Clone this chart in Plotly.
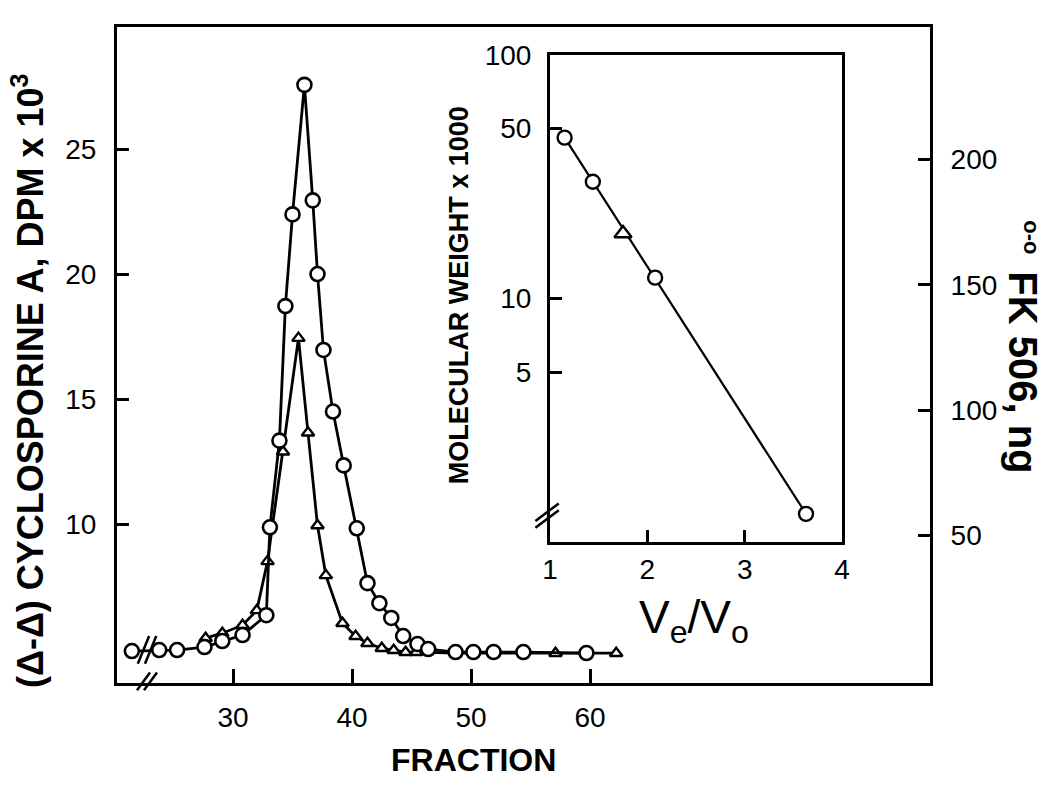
import plotly.graph_objects as go

# ---------------- data ----------------
# FK 506 (circles, right axis, ng)
fk506_fraction = [21.5, 23.8, 25.3, 27.6, 29.1, 30.8, 32.8, 33.1, 33.9, 34.4, 35.0, 36.0,
                  36.7, 37.1, 37.6, 38.4, 39.3, 40.4, 41.3, 42.3, 43.3, 44.3, 45.5, 46.4,
                  48.7, 50.2, 51.9, 54.4, 59.7]
fk506_ng = [3.8, 4.2, 4.2, 5.4, 7.8, 10.2, 18.1, 53.2, 87.8, 141.5, 178.1, 229.8,
            183.7, 154.3, 124.0, 99.4, 77.9, 52.8, 30.9, 22.9, 17.0, 9.8, 6.6, 4.6,
            3.4, 3.4, 3.4, 3.4, 3.0]

# Cyclosporine A (triangles, left axis, DPM x 10^3)
csa_fraction = [27.7, 29.1, 30.8, 32.0, 32.9, 34.2, 35.5, 36.3, 37.1, 37.8, 39.2, 40.3,
                41.3, 42.5, 43.5, 44.5, 45.4, 48.7, 51.9, 57.1, 62.2]
csa_dpm = [5.46, 5.66, 5.98, 6.57, 8.53, 12.91, 17.45, 13.67, 9.96, 7.97, 6.06, 5.54,
           5.26, 5.06, 4.98, 4.90, 4.90, 4.86, 4.86, 4.86, 4.86]

# Inset: calibration standards and sample
std_ve_vo = [1.15, 1.44, 2.08, 3.63]
std_mw = [45.8, 30.2, 12.2, 1.31]
sample_ve_vo = [1.75]
sample_mw = [18.5]

# axis ticks
main_x_ticks = [30, 40, 50, 60]
left_y_ticks = [10, 15, 20, 25]
right_y_ticks = [50, 100, 150, 200]
inset_x_ticks = [1, 2, 3, 4]
inset_y_ticks = [5, 10, 50, 100]

# break positions
x_break_fraction = 22.7

FONT = "Liberation Sans"
BLACK = "black"

fig = go.Figure()

fig.add_trace(go.Scatter(
    x=csa_fraction, y=csa_dpm, mode="lines+markers", xaxis="x", yaxis="y",
    line=dict(color=BLACK, width=2.8),
    marker=dict(symbol="triangle-up", size=11, color="white",
                line=dict(color=BLACK, width=2.4)),
    showlegend=False))

fig.add_trace(go.Scatter(
    x=fk506_fraction, y=fk506_ng, mode="lines+markers", xaxis="x", yaxis="y2",
    line=dict(color=BLACK, width=2.8),
    marker=dict(symbol="circle", size=14, color="white",
                line=dict(color=BLACK, width=2.6)),
    showlegend=False))

# inset
fig.add_trace(go.Scatter(
    x=std_ve_vo, y=std_mw, mode="lines+markers", xaxis="x2", yaxis="y3",
    line=dict(color=BLACK, width=2.2),
    marker=dict(symbol="circle", size=14, color="white",
                line=dict(color=BLACK, width=2.4)),
    showlegend=False))
fig.add_trace(go.Scatter(
    x=sample_ve_vo, y=sample_mw, mode="markers", xaxis="x2", yaxis="y3",
    marker=dict(symbol="triangle-up", size=15, color="white",
                line=dict(color=BLACK, width=2.4)),
    showlegend=False))

tickfont = dict(family=FONT, size=28, color=BLACK)
common = dict(showgrid=False, zeroline=False, showline=True, linecolor=BLACK,
              ticks="inside", tickcolor=BLACK, tickwidth=2.5, tickfont=tickfont)

fig.update_layout(
    width=1050, height=788,
    margin=dict(l=117, r=120, t=25, b=105),
    paper_bgcolor="white", plot_bgcolor="white",
    xaxis=dict(domain=[0, 1], range=[20.25, 88.57], tickvals=main_x_ticks,
               ticklen=14, linewidth=3, mirror=True, anchor="y",
               ticklabelstandoff=7, **common),
    yaxis=dict(range=[3.67, 29.88], tickvals=left_y_ticks, ticklen=12,
               linewidth=3, anchor="x", ticklabelstandoff=12, **common),
    yaxis2=dict(range=[-8.95, 252.9], tickvals=right_y_ticks, ticklen=12,
                linewidth=3, overlaying="y", side="right", anchor="x",
                ticklabelstandoff=12, **common),
    xaxis2=dict(domain=[0.5326, 0.8918], range=[1, 4], tickvals=inset_x_ticks,
                ticklen=12, linewidth=3, mirror=True, anchor="y3",
                ticklabelstandoff=0, **common),
    yaxis3=dict(domain=[0.2143, 0.9574], type="log", range=[0, 2],
                tickvals=inset_y_ticks, ticktext=[str(v) for v in inset_y_ticks],
                ticklen=12, linewidth=3, mirror=True, anchor="x2",
                ticklabelstandoff=10, **common),
)

# axis-break marks
shapes = []
# on main x axis
for off in (0.0, 0.0086):
    shapes.append(dict(type="line", xref="x domain", yref="y domain",
                       x0=0.0246 + off, y0=-0.011, x1=0.0406 + off, y1=0.016,
                       line=dict(color=BLACK, width=2.5)))
# on FK506 curve
for off in (0.0, 0.6):
    shapes.append(dict(type="line", xref="x", yref="y2",
                       x0=x_break_fraction - 0.7 + off, y0=-1.3,
                       x1=x_break_fraction + 0.25 + off, y1=9.8,
                       line=dict(color=BLACK, width=2.5)))
# on inset y axis
for off in (0.0, 0.014):
    shapes.append(dict(type="line", xref="x2 domain", yref="y3 domain",
                       x0=-0.05, y0=0.030 + off, x1=0.03, y1=0.066 + off,
                       line=dict(color=BLACK, width=2.5)))
fig.update_layout(shapes=shapes)

annotations = [
    dict(text="<b>(\u0394-\u0394) CYCLOSPORINE A, DPM x 10<sup>3</sup></b>", xref="paper", yref="paper",
         x=-0.1094, y=0.4605, textangle=-90, showarrow=False,
         font=dict(family=FONT, size=36, color=BLACK), xanchor="center", yanchor="middle"),
    dict(text="<b>o-o</b>", xref="paper", yref="paper",
         x=1.1255, y=0.6793, textangle=90, showarrow=False,
         font=dict(family=FONT, size=22, color=BLACK), xanchor="center", yanchor="middle"),
    dict(text="<b>FK 506, ng</b>", xref="paper", yref="paper",
         x=1.1140, y=0.4742, textangle=90, showarrow=False,
         font=dict(family=FONT, size=40, color=BLACK), xanchor="center", yanchor="middle"),
    dict(text="<b>FRACTION</b>", xref="paper", yref="paper",
         x=0.4379, y=-0.117, showarrow=False,
         font=dict(family=FONT, size=32, color=BLACK), xanchor="center", yanchor="middle"),
    dict(text="V<sub>e</sub>/V<sub>o</sub>", xref="paper", yref="paper",
         x=0.7097, y=0.095, showarrow=False,
         font=dict(family=FONT, size=46, color=BLACK), xanchor="center", yanchor="middle"),
    dict(text="<b>MOLECULAR WEIGHT x 1000</b>", xref="paper", yref="paper",
         x=0.4207, y=0.5912, textangle=-90, showarrow=False,
         font=dict(family=FONT, size=27, color=BLACK), xanchor="center", yanchor="middle"),
]
fig.update_layout(annotations=annotations)

fig.write_html("out.html", config={"displayModeBar": False},
               post_script="document.body.style.margin='0';document.body.style.overflow='hidden';")
